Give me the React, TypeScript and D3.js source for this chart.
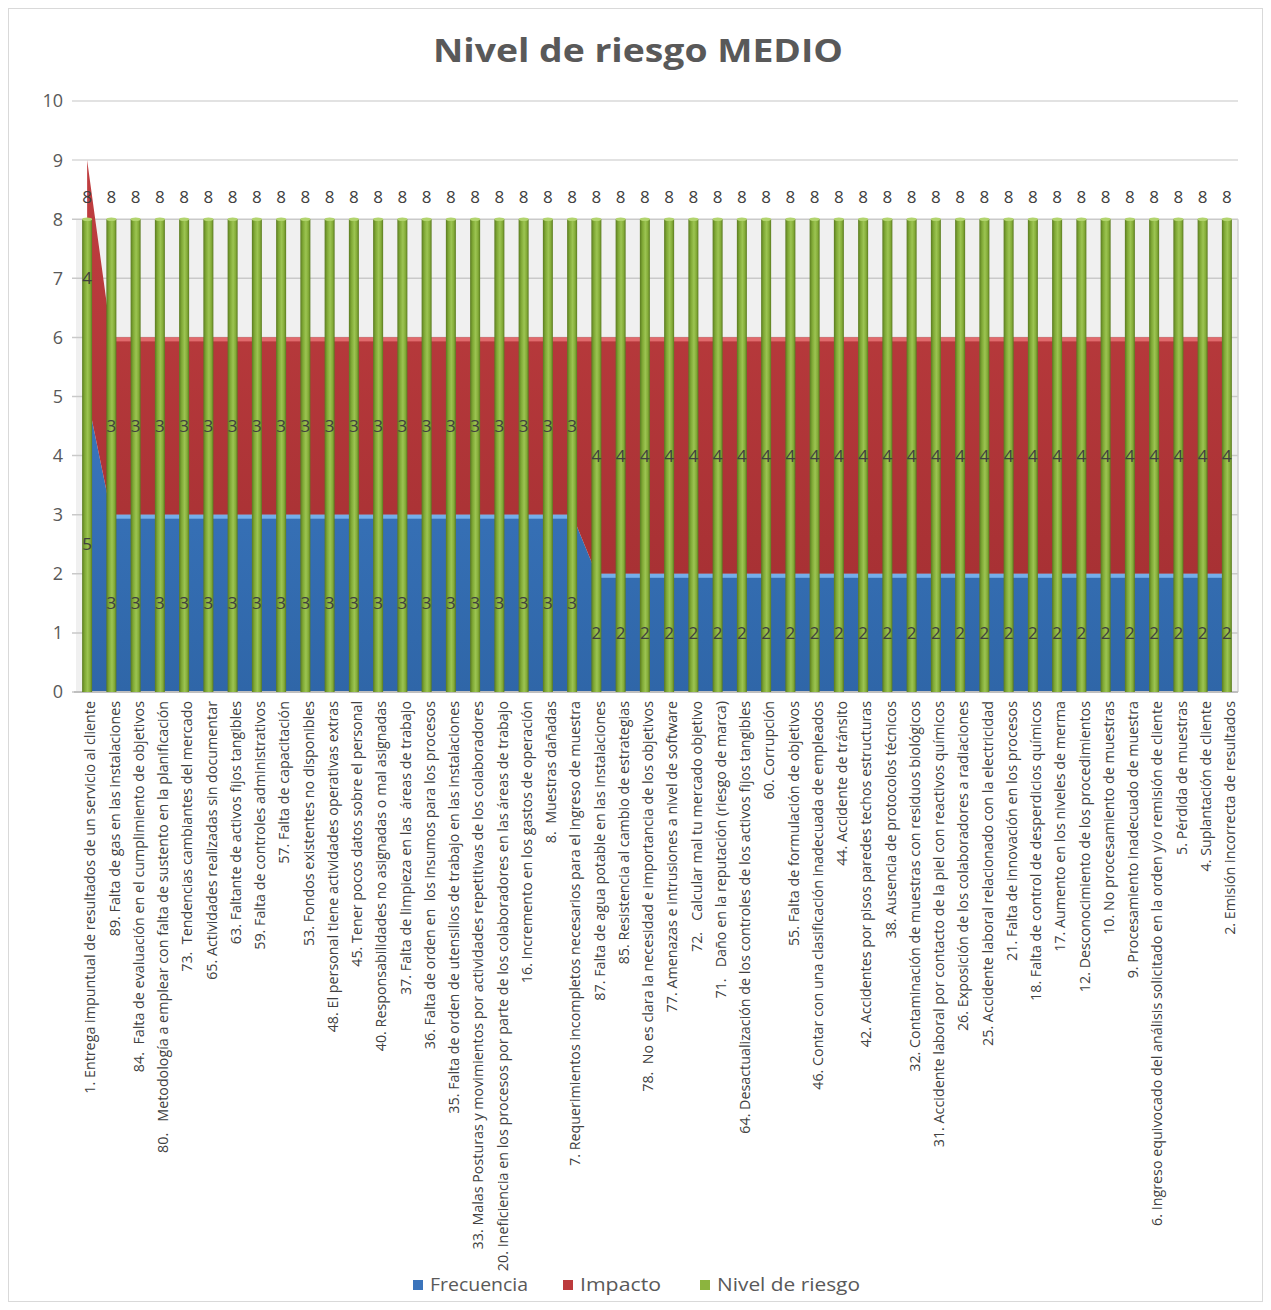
import React from "react";
import * as d3 from "d3";

const categories: string[] = [
  "1. Entrega impuntual de resultados de un servicio al cliente",
  "89. Falta de gas en las instalaciones",
  "84.  Falta de evaluación en el cumplimiento de objetivos",
  "80.   Metodología a emplear con falta de sustento en la planificación",
  "73.  Tendencias cambiantes del mercado",
  "65. Actividades realizadas sin documentar",
  "63. Faltante de activos fijos tangibles",
  "59. Falta de controles administrativos",
  "57. Falta de capacitación",
  "53. Fondos existentes no disponibles",
  "48. El personal tiene actividades operativas extras",
  "45. Tener pocos datos sobre el personal",
  "40. Responsabilidades no asignadas o mal asignadas",
  "37. Falta de limpieza en las  áreas de trabajo",
  "36. Falta de orden en  los insumos para los procesos",
  "35. Falta de orden de utensilios de trabajo en las instalaciones",
  "33. Malas Posturas y movimientos por actividades repetitivas de los colaboradores",
  "20. Ineficiencia en los procesos por parte de los colaboradores en las áreas de trabajo",
  "16. Incremento en los gastos de operación",
  "8.  Muestras dañadas",
  "7. Requerimientos incompletos necesarios para el ingreso de muestra",
  "87. Falta de agua potable en las instalaciones",
  "85. Resistencia al cambio de estrategias",
  "78.  No es clara la necesidad e importancia de los objetivos",
  "77. Amenazas e intrusiones a nivel de software",
  "72.   Calcular mal tu mercado objetivo",
  "71.   Daño en la reputación (riesgo de marca)",
  "64. Desactualización de los controles de los activos fijos tangibles",
  "60. Corrupción",
  "55. Falta de formulación de objetivos",
  "46. Contar con una clasificación inadecuada de empleados",
  "44. Accidente de tránsito",
  "42. Accidentes por pisos paredes techos estructuras",
  "38. Ausencia de protocolos técnicos",
  "32. Contaminación de muestras con residuos biológicos",
  "31. Accidente laboral por contacto de la piel con reactivos químicos",
  "26. Exposición de los colaboradores a radiaciones",
  "25. Accidente laboral relacionado con la electricidad",
  "21. Falta de innovación en los procesos",
  "18. Falta de control de desperdicios químicos",
  "17. Aumento en los niveles de merma",
  "12. Desconocimiento de los procedimientos",
  "10. No procesamiento de muestras",
  "9. Procesamiento inadecuado de muestra",
  "6. Ingreso equivocado del análisis solicitado en la orden y/o remisión de cliente",
  "5. Pérdida de muestras",
  "4. Suplantación de cliente",
  "2. Emisión incorrecta de resultados",
];

const frecuencia: number[] = [
  5, 3, 3, 3, 3, 3, 3, 3, 3, 3, 3, 3, 3, 3, 3, 3, 3, 3, 3, 3, 3,
  2, 2, 2, 2, 2, 2, 2, 2, 2, 2, 2, 2, 2, 2, 2, 2, 2, 2, 2, 2, 2, 2, 2, 2, 2, 2, 2,
];

const impacto: number[] = [
  4, 3, 3, 3, 3, 3, 3, 3, 3, 3, 3, 3, 3, 3, 3, 3, 3, 3, 3, 3, 3,
  4, 4, 4, 4, 4, 4, 4, 4, 4, 4, 4, 4, 4, 4, 4, 4, 4, 4, 4, 4, 4, 4, 4, 4, 4, 4, 4,
];

const nivelRiesgo: number[] = [
  8, 8, 8, 8, 8, 8, 8, 8, 8, 8, 8, 8, 8, 8, 8, 8, 8, 8, 8, 8, 8, 8, 8, 8,
  8, 8, 8, 8, 8, 8, 8, 8, 8, 8, 8, 8, 8, 8, 8, 8, 8, 8, 8, 8, 8, 8, 8, 8,
];

const yTicks: number[] = [0, 1, 2, 3, 4, 5, 6, 7, 8, 9, 10];

const seriesNames = ["Frecuencia", "Impacto", "Nivel de riesgo"];

export default function App() {
  const W = 1271;
  const H = 1310;
  const x = d3.scaleBand<string>().domain(categories).range([75, 1239]).padding(0);
  const y = d3.scaleLinear().domain([0, 10]).range([692, 101]);
  const cx = (i: number) => (x(categories[i]) as number) + x.bandwidth() / 2;
  const idx = categories.map((_, i) => i);
  const totals = idx.map((i) => frecuencia[i] + impacto[i]);

  const blueArea = d3
    .area<number>()
    .x((i) => cx(i))
    .y0(() => y(0))
    .y1((i) => y(frecuencia[i]))(idx) as string;
  const redArea = d3
    .area<number>()
    .x((i) => cx(i))
    .y0((i) => y(frecuencia[i]))
    .y1((i) => y(totals[i]))(idx) as string;

  // highlight only on flat segments (pairs of equal neighbours)
  const pairs = idx.slice(0, -1).map((i) => [i, i + 1]);
  const segLine = (vals: number[]) =>
    d3
      .line<number>()
      .x((i) => cx(i))
      .y((i) => y(vals[i]) + 2);
  const blueSegs = pairs.filter(([a, b]) => frecuencia[a] === frecuencia[b]).map((p) => segLine(frecuencia)(p) as string);
  const redSegs = pairs.filter(([a, b]) => totals[a] === totals[b]).map((p) => segLine(totals)(p) as string);

  const font = "'Open Sans', 'DejaVu Sans', sans-serif";
  const barW = 10;
  const legendColors = ["#3B74BB", "#BC3A3C", "#8CB43E"];
  const legendX = [413, 563, 700];
  const legendLen = [115, 98, 160];

  return (
    <svg
      width={W}
      height={H}
      style={{ position: "absolute", left: 0, top: 0, background: "#fff" }}
      fontFamily={font}
    >
      <defs>
        <linearGradient id="gBar" x1="0" x2="1" y1="0" y2="0">
          <stop offset="0%" stopColor="#5A7A20" />
          <stop offset="25%" stopColor="#7FA835" />
          <stop offset="55%" stopColor="#9CC452" />
          <stop offset="80%" stopColor="#84AC38" />
          <stop offset="100%" stopColor="#5A7A20" />
        </linearGradient>
        <linearGradient id="gBlue" x1="0" x2="0" y1="0" y2="1">
          <stop offset="0%" stopColor="#3A76BE" />
          <stop offset="100%" stopColor="#2F66A8" />
        </linearGradient>
        <linearGradient id="gRed" x1="0" x2="0" y1="0" y2="1">
          <stop offset="0%" stopColor="#C03E40" />
          <stop offset="100%" stopColor="#A83134" />
        </linearGradient>
      </defs>

      <rect x={8.5} y={8.5} width={1254} height={1293} fill="#fff" stroke="#D9D9D9" />

      <text
        x={638}
        y={62}
        textAnchor="middle"
        fontSize={33}
        fontWeight={700}
        fill="#595959"
        textLength={410}
        lengthAdjust="spacingAndGlyphs"
      >
        Nivel de riesgo MEDIO
      </text>

      {/* back wall shading below 8 */}
      <rect x={76} y={y(8)} width={1238 - 76} height={y(0) - y(8)} fill="#F0F0F0" />

      {yTicks.map((t) => (
        <g key={t}>
          <line x1={72} x2={1238} y1={y(t)} y2={y(t)} stroke={t <= 8 ? "#C9C9C9" : "#D9D9D9"} strokeWidth={1.5} />
          <text x={63} y={y(t)} dy="0.36em" textAnchor="end" fontSize={18} fill="#595959">
            {t}
          </text>
        </g>
      ))}
      <line x1={1238} x2={1238} y1={y(8)} y2={y(0)} stroke="#D0D0D0" strokeWidth={1.5} />

      <path d={blueArea} fill="url(#gBlue)" />
      <path d={redArea} fill="url(#gRed)" />
      {redSegs.map((d, k) => (
        <path key={"rs" + k} d={d} fill="none" stroke="#E06A6C" strokeWidth={4} />
      ))}
      {blueSegs.map((d, k) => (
        <path key={"bs" + k} d={d} fill="none" stroke="#74AEEA" strokeWidth={4} />
      ))}

      <line x1={74} x2={1238} y1={y(0)} y2={y(0)} stroke="#BFBFBF" strokeWidth={2} />

      {idx.map((i) => (
        <g key={i}>
          <rect x={cx(i) - barW / 2} y={y(nivelRiesgo[i])} width={barW} height={y(0) - y(nivelRiesgo[i])} fill="url(#gBar)" />
          <ellipse cx={cx(i)} cy={y(nivelRiesgo[i])} rx={barW / 2} ry={1.8} fill="#B2D46E" />
        </g>
      ))}

      {idx.map((i) => (
        <g key={"l" + i} fontSize={17} fill="#404040" textAnchor="middle">
          <text x={cx(i)} y={y(frecuencia[i] / 2)} dy="0.36em">
            {frecuencia[i]}
          </text>
          <text x={cx(i)} y={y(frecuencia[i] + impacto[i] / 2)} dy="0.36em">
            {impacto[i]}
          </text>
          <text x={cx(i)} y={y(nivelRiesgo[i]) - 22} dy="0.36em">
            {nivelRiesgo[i]}
          </text>
        </g>
      ))}

      {categories.map((c, i) => (
        <text
          key={"c" + i}
          transform={`translate(${cx(i) + 3},${701}) rotate(-90)`}
          textAnchor="end"
          dy="0.36em"
          fontSize={14.3}
          fill="#404040"
          style={{ whiteSpace: "pre" }}
        >
          {c}
        </text>
      ))}

      {seriesNames.map((s, k) => (
        <g key={s}>
          <rect x={legendX[k]} y={1280} width={10} height={10} fill={legendColors[k]} />
          <text
            x={legendX[k] + 17}
            y={1285}
            dy="0.36em"
            fontSize={18}
            fill="#595959"
            textLength={legendLen[k] - 17}
            lengthAdjust="spacingAndGlyphs"
          >
            {s}
          </text>
        </g>
      ))}
    </svg>
  );
}
